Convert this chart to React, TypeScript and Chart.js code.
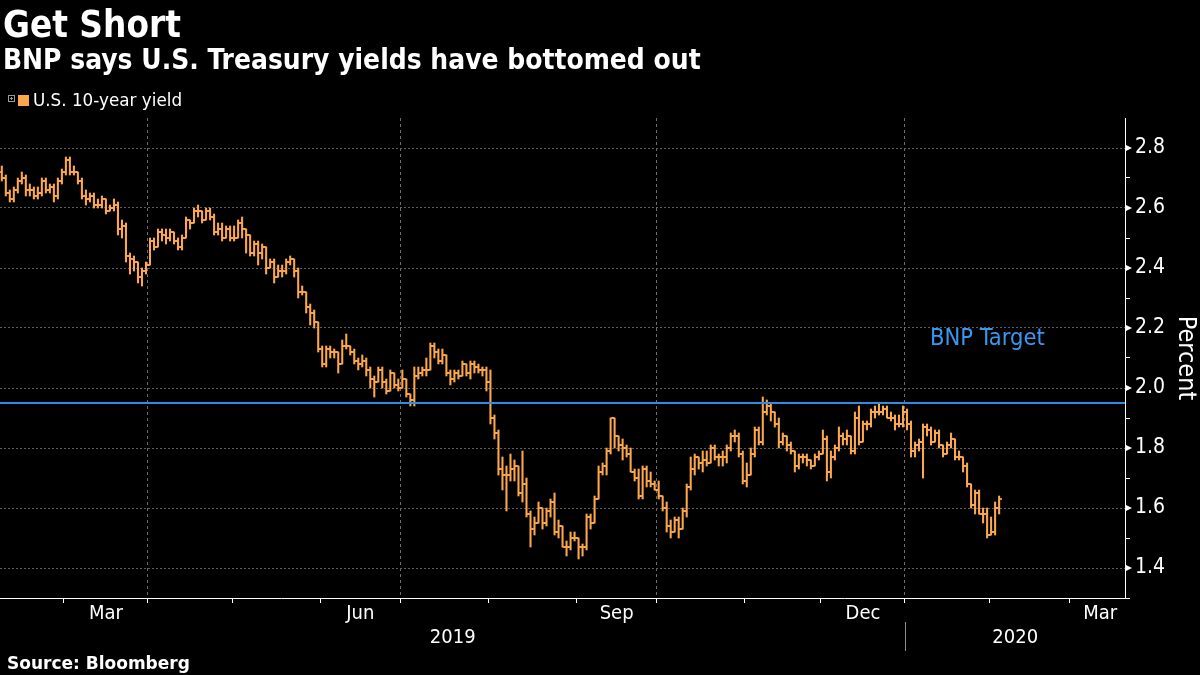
import React, { useEffect, useRef } from 'react';
import { Chart, registerables } from 'chart.js';

Chart.register(...registerables);

const ORANGE = '#FCA84B';
const BLUE = '#2E8DEB';
const COND = '"DejaVu Sans Condensed", "DejaVu Sans", sans-serif';
const SANS = '"DejaVu Sans", sans-serif';

// Daily bars, one per trading session, 6 Feb 2019 .. 5 Feb 2020 (index = session number)
const openVals = [
  // Feb 2019
  2.72, 2.70, 2.65, 2.63, 2.66, 2.69, 2.70, 2.66, 2.66, 2.64, 2.65, 2.69, 2.66, 2.67, 2.64, 2.69,
  // Mar
  2.72, 2.76, 2.72, 2.72, 2.69, 2.64, 2.63, 2.64, 2.61, 2.61, 2.63, 2.59, 2.60, 2.61, 2.53, 2.54, 2.44, 2.43, 2.42, 2.37, 2.39,
  // Apr
  2.41, 2.49, 2.47, 2.52, 2.51, 2.50, 2.52, 2.49, 2.47, 2.50, 2.56, 2.55, 2.59, 2.59, 2.56, 2.59, 2.57, 2.52, 2.53, 2.50, 2.53,
  // May
  2.50, 2.50, 2.55, 2.53, 2.51, 2.45, 2.48, 2.45, 2.47, 2.40, 2.42, 2.37, 2.39, 2.39, 2.42, 2.43, 2.39, 2.32, 2.32, 2.27, 2.25, 2.22,
  // Jun
  2.13, 2.08, 2.13, 2.12, 2.12, 2.08, 2.14, 2.14, 2.12, 2.09, 2.08, 2.09, 2.06, 2.03, 2.02, 2.06, 2.02, 1.99, 2.05, 2.01,
  // Jul
  2.00, 2.03, 1.98, 1.96, 2.04, 2.05, 2.06, 2.06, 2.14, 2.12, 2.09, 2.11, 2.05, 2.03, 2.05, 2.04, 2.08, 2.05, 2.08, 2.07, 2.06, 2.06,
  // Aug
  2.02, 1.90, 1.85, 1.73, 1.71, 1.71, 1.73, 1.74, 1.65, 1.68, 1.58, 1.53, 1.55, 1.60, 1.55, 1.59, 1.62, 1.52, 1.54, 1.47, 1.47, 1.50,
  // Sep
  1.50, 1.47, 1.47, 1.57, 1.55, 1.63, 1.72, 1.74, 1.79, 1.90, 1.84, 1.81, 1.80, 1.78, 1.72, 1.70, 1.64, 1.73, 1.69, 1.68,
  // Oct
  1.66, 1.64, 1.60, 1.54, 1.52, 1.56, 1.53, 1.59, 1.67, 1.73, 1.77, 1.75, 1.76, 1.75, 1.80, 1.77, 1.77, 1.77, 1.80, 1.84, 1.84, 1.78,
  // Nov
  1.69, 1.71, 1.78, 1.86, 1.82, 1.92, 1.94, 1.92, 1.88, 1.82, 1.84, 1.81, 1.79, 1.74, 1.77, 1.77, 1.76, 1.74, 1.77,
  // Dec
  1.78, 1.83, 1.72, 1.77, 1.80, 1.84, 1.83, 1.84, 1.79, 1.90, 1.82, 1.88, 1.88, 1.92, 1.92, 1.92, 1.93, 1.90, 1.90, 1.88, 1.88,
  // Jan 2020
  1.92, 1.88, 1.79, 1.81, 1.82, 1.87, 1.86, 1.82, 1.85, 1.81, 1.78, 1.81, 1.83, 1.77, 1.77, 1.74, 1.68, 1.61, 1.65, 1.58, 1.58,
  // Feb 2020
  1.51, 1.52, 1.60,
];

const highVals = [
  2.74, 2.71, 2.66, 2.67, 2.70, 2.72, 2.71, 2.68, 2.67, 2.67, 2.70, 2.70, 2.68, 2.68, 2.70, 2.73,
  2.77, 2.77, 2.74, 2.72, 2.70, 2.66, 2.65, 2.65, 2.63, 2.64, 2.63, 2.61, 2.63, 2.62, 2.56, 2.55, 2.45, 2.44, 2.42, 2.40, 2.42,
  2.50, 2.50, 2.53, 2.53, 2.53, 2.53, 2.52, 2.50, 2.51, 2.57, 2.56, 2.60, 2.61, 2.59, 2.60, 2.60, 2.58, 2.55, 2.55, 2.54, 2.54,
  2.54, 2.56, 2.57, 2.53, 2.51, 2.49, 2.49, 2.48, 2.47, 2.43, 2.43, 2.41, 2.41, 2.43, 2.44, 2.43, 2.40, 2.34, 2.32, 2.28, 2.26, 2.22,
  2.14, 2.14, 2.14, 2.13, 2.12, 2.16, 2.18, 2.14, 2.13, 2.10, 2.11, 2.10, 2.07, 2.04, 2.07, 2.07, 2.03, 2.06, 2.05, 2.03,
  2.06, 2.03, 1.98, 2.07, 2.07, 2.07, 2.10, 2.15, 2.15, 2.13, 2.13, 2.11, 2.06, 2.06, 2.06, 2.09, 2.08, 2.09, 2.09, 2.08, 2.07, 2.07,
  2.06, 1.91, 1.86, 1.77, 1.74, 1.78, 1.76, 1.74, 1.79, 1.70, 1.59, 1.57, 1.62, 1.60, 1.60, 1.63, 1.65, 1.56, 1.54, 1.49, 1.52, 1.52,
  1.50, 1.48, 1.58, 1.58, 1.64, 1.74, 1.75, 1.80, 1.90, 1.90, 1.84, 1.83, 1.81, 1.80, 1.73, 1.73, 1.74, 1.74, 1.72, 1.69,
  1.69, 1.64, 1.62, 1.56, 1.57, 1.57, 1.60, 1.68, 1.77, 1.78, 1.77, 1.79, 1.79, 1.81, 1.81, 1.78, 1.79, 1.81, 1.85, 1.86, 1.85, 1.79,
  1.75, 1.80, 1.87, 1.87, 1.97, 1.96, 1.95, 1.92, 1.90, 1.85, 1.84, 1.82, 1.79, 1.78, 1.78, 1.78, 1.76, 1.78, 1.79,
  1.86, 1.84, 1.79, 1.81, 1.87, 1.85, 1.86, 1.84, 1.92, 1.94, 1.89, 1.89, 1.93, 1.94, 1.95, 1.94, 1.94, 1.92, 1.91, 1.91, 1.94,
  1.93, 1.89, 1.82, 1.83, 1.88, 1.88, 1.87, 1.86, 1.86, 1.81, 1.82, 1.85, 1.83, 1.79, 1.77, 1.75, 1.68, 1.66, 1.66, 1.60, 1.60,
  1.57, 1.62, 1.64,
];

const lowVals = [
  2.69, 2.64, 2.62, 2.62, 2.65, 2.68, 2.64, 2.64, 2.63, 2.63, 2.64, 2.65, 2.65, 2.62, 2.63, 2.68,
  2.71, 2.71, 2.71, 2.68, 2.63, 2.61, 2.62, 2.60, 2.60, 2.60, 2.58, 2.59, 2.59, 2.51, 2.50, 2.42, 2.38, 2.39, 2.35, 2.34, 2.38,
  2.41, 2.46, 2.47, 2.49, 2.48, 2.49, 2.48, 2.46, 2.46, 2.50, 2.53, 2.55, 2.57, 2.55, 2.56, 2.56, 2.51, 2.51, 2.49, 2.50, 2.49,
  2.49, 2.50, 2.50, 2.45, 2.44, 2.44, 2.41, 2.43, 2.38, 2.40, 2.35, 2.37, 2.37, 2.38, 2.41, 2.37, 2.30, 2.31, 2.25, 2.21, 2.20, 2.12,
  2.07, 2.07, 2.10, 2.10, 2.05, 2.08, 2.13, 2.11, 2.08, 2.06, 2.07, 2.04, 2.00, 1.97, 2.02, 2.00, 1.98, 1.99, 2.00, 1.99,
  2.00, 1.97, 1.94, 1.94, 2.03, 2.04, 2.04, 2.06, 2.10, 2.08, 2.08, 2.04, 2.01, 2.02, 2.03, 2.04, 2.04, 2.03, 2.05, 2.05, 2.04, 1.99,
  1.88, 1.83, 1.71, 1.66, 1.59, 1.69, 1.69, 1.64, 1.62, 1.57, 1.47, 1.51, 1.55, 1.53, 1.54, 1.57, 1.51, 1.50, 1.47, 1.44, 1.46, 1.49,
  1.43, 1.44, 1.46, 1.53, 1.55, 1.63, 1.71, 1.71, 1.78, 1.80, 1.79, 1.76, 1.77, 1.72, 1.69, 1.63, 1.63, 1.67, 1.67, 1.66,
  1.63, 1.59, 1.52, 1.50, 1.52, 1.50, 1.53, 1.57, 1.66, 1.71, 1.73, 1.72, 1.74, 1.75, 1.76, 1.74, 1.74, 1.75, 1.79, 1.82, 1.77, 1.68,
  1.67, 1.71, 1.77, 1.81, 1.81, 1.91, 1.89, 1.87, 1.80, 1.81, 1.79, 1.78, 1.72, 1.73, 1.75, 1.74, 1.73, 1.74, 1.76,
  1.78, 1.69, 1.70, 1.76, 1.79, 1.81, 1.81, 1.78, 1.78, 1.81, 1.82, 1.86, 1.87, 1.90, 1.91, 1.91, 1.90, 1.89, 1.86, 1.87, 1.87,
  1.86, 1.77, 1.77, 1.79, 1.70, 1.84, 1.81, 1.82, 1.80, 1.77, 1.78, 1.80, 1.76, 1.76, 1.72, 1.67, 1.60, 1.58, 1.58, 1.55, 1.50,
  1.51, 1.51, 1.58,
];

const closeVals = [
  2.70, 2.65, 2.63, 2.66, 2.69, 2.70, 2.66, 2.66, 2.64, 2.65, 2.69, 2.66, 2.67, 2.64, 2.69, 2.72,
  2.76, 2.72, 2.72, 2.69, 2.64, 2.63, 2.64, 2.61, 2.61, 2.63, 2.59, 2.60, 2.61, 2.53, 2.54, 2.44, 2.43, 2.42, 2.37, 2.39, 2.41,
  2.49, 2.47, 2.52, 2.51, 2.50, 2.52, 2.49, 2.47, 2.50, 2.56, 2.55, 2.59, 2.59, 2.56, 2.59, 2.57, 2.52, 2.53, 2.50, 2.53, 2.50,
  2.50, 2.55, 2.53, 2.51, 2.45, 2.48, 2.45, 2.47, 2.40, 2.42, 2.37, 2.39, 2.39, 2.42, 2.43, 2.39, 2.32, 2.32, 2.27, 2.25, 2.22, 2.13,
  2.08, 2.13, 2.12, 2.12, 2.08, 2.14, 2.14, 2.12, 2.09, 2.08, 2.09, 2.06, 2.03, 2.02, 2.06, 2.02, 1.99, 2.05, 2.01, 2.00,
  2.03, 1.98, 1.96, 2.04, 2.05, 2.06, 2.06, 2.14, 2.12, 2.09, 2.11, 2.05, 2.03, 2.05, 2.04, 2.08, 2.05, 2.08, 2.07, 2.06, 2.06, 2.02,
  1.90, 1.85, 1.73, 1.71, 1.71, 1.73, 1.74, 1.65, 1.68, 1.58, 1.53, 1.55, 1.60, 1.55, 1.59, 1.62, 1.52, 1.54, 1.47, 1.47, 1.50, 1.50,
  1.47, 1.47, 1.57, 1.55, 1.63, 1.72, 1.74, 1.79, 1.90, 1.84, 1.81, 1.80, 1.78, 1.72, 1.70, 1.64, 1.73, 1.69, 1.68, 1.66,
  1.64, 1.60, 1.54, 1.52, 1.56, 1.53, 1.59, 1.67, 1.73, 1.77, 1.75, 1.76, 1.75, 1.80, 1.77, 1.77, 1.77, 1.80, 1.84, 1.84, 1.78, 1.69,
  1.71, 1.78, 1.86, 1.82, 1.92, 1.94, 1.92, 1.88, 1.82, 1.84, 1.81, 1.79, 1.74, 1.77, 1.77, 1.76, 1.74, 1.77, 1.78,
  1.83, 1.72, 1.77, 1.80, 1.84, 1.83, 1.84, 1.79, 1.90, 1.82, 1.88, 1.88, 1.92, 1.92, 1.92, 1.93, 1.90, 1.90, 1.88, 1.88, 1.92,
  1.88, 1.79, 1.81, 1.82, 1.87, 1.86, 1.82, 1.85, 1.81, 1.78, 1.81, 1.83, 1.77, 1.77, 1.74, 1.68, 1.61, 1.65, 1.58, 1.58, 1.51,
  1.52, 1.60, 1.63,
];

const targetYield = 1.95;

// Month axis: session index where each month begins
const monthNames = ['Mar', 'Apr', 'May', 'Jun', 'Jul', 'Aug', 'Sep', 'Oct', 'Nov', 'Dec', 'Jan', 'Feb', 'Mar', 'Apr'];
const monthStartIdx = [16, 37, 58, 80, 100, 122, 144, 164, 186, 205, 226, 247, 267, 289];
const labelledMonths = ['Mar', 'Jun', 'Sep', 'Dec'];
const gridMonths = ['Apr', 'Jul', 'Oct', 'Jan'];
const yearNames = ['2019', '2020'];
const yearStartIdx = 226;

const yTickValues = [1.3, 1.4, 1.5, 1.6, 1.7, 1.8, 1.9, 2.0, 2.1, 2.2, 2.3, 2.4, 2.5, 2.6, 2.7, 2.8];
const yLabelValues = [1.4, 1.6, 1.8, 2.0, 2.2, 2.4, 2.6, 2.8];

const X_MIN = -0.45;
const X_MAX = 280.43;
const Y_MIN = 1.3;
const Y_MAX = 2.9;

const isMajor = (v: number) => yLabelValues.some((m) => Math.abs(m - v) < 1e-6);

export default function App() {
  const ref = useRef<HTMLCanvasElement>(null);

  useEffect(() => {
    const canvas = ref.current;
    if (!canvas) return;

    const makeTick = (side: 'left' | 'right') => {
      const c = document.createElement('canvas');
      c.width = 6;
      c.height = 2;
      const g = c.getContext('2d')!;
      g.fillStyle = ORANGE;
      g.globalAlpha = 0.85;
      g.fillRect(side === 'left' ? 0 : 3, 0, 3, 2);
      return c;
    };
    const openImg = makeTick('left');
    const closeImg = makeTick('right');

    type XT = { value: number; label: string; kind: 'grid' | 'mark' | 'label' };
    const xTicks: XT[] = [];
    monthStartIdx.forEach((s, k) => {
      const b = s - 0.5;
      if (b > X_MIN && b < X_MAX) {
        xTicks.push({ value: b, label: '', kind: gridMonths.includes(monthNames[k]) ? 'grid' : 'mark' });
      }
      if (labelledMonths.includes(monthNames[k]) || k === 12) {
        if (k + 1 < monthStartIdx.length) {
          const mid = (s + monthStartIdx[k + 1]) / 2 - 0.5;
          const pos = Math.min(mid, X_MAX - 6.2);
          xTicks.push({ value: pos, label: monthNames[k], kind: 'label' });
        }
      }
    });
    xTicks.sort((a, b) => a.value - b.value);
    const kindAt = (v: number) => {
      const t = xTicks.find((q) => Math.abs(q.value - v) < 1e-6);
      return t ? t.kind : 'label';
    };

    const decor = {
      id: 'decor',
      afterDraw(chart: any) {
        const { ctx, chartArea } = chart;
        const x = chart.scales.x;
        const y = chart.scales.y;
        ctx.save();
        const sep = Math.round(x.getPixelForValue(yearStartIdx - 0.5)) + 0.5;
        ctx.strokeStyle = '#8a8a8a';
        ctx.lineWidth = 1;
        ctx.beginPath();
        ctx.moveTo(sep, x.top + 24);
        ctx.lineTo(sep, x.top + 53);
        ctx.stroke();
        ctx.fillStyle = '#ffffff';
        ctx.font = `20px ${COND}`;
        ctx.textAlign = 'center';
        ctx.textBaseline = 'middle';
        ctx.fillText(yearNames[0], (chartArea.left + sep) / 2, x.top + 40);
        ctx.fillText(yearNames[1], (sep + chartArea.right) / 2, x.top + 40);
        yLabelValues.forEach((v) => {
          const py = y.getPixelForValue(v);
          ctx.beginPath();
          ctx.moveTo(chartArea.right + 1, py - 3);
          ctx.lineTo(chartArea.right + 7, py);
          ctx.lineTo(chartArea.right + 1, py + 3);
          ctx.closePath();
          ctx.fill();
        });
        ctx.restore();
      },
    };

    const chart = new Chart(canvas, {
      type: 'bar',
      data: {
        datasets: [
          {
            type: 'line',
            label: 'BNP Target',
            data: [
              { x: X_MIN, y: targetYield },
              { x: X_MAX, y: targetYield },
            ],
            borderColor: BLUE,
            borderWidth: 2,
            pointRadius: 0,
            order: 0,
          } as any,
          {
            type: 'line',
            label: 'Open',
            data: openVals.map((v, i) => ({ x: i, y: v })),
            showLine: false,
            pointStyle: openImg,
            pointRadius: 3,
            pointHoverRadius: 3,
            order: 1,
          } as any,
          {
            type: 'line',
            label: 'Close',
            data: closeVals.map((v, i) => ({ x: i, y: v })),
            showLine: false,
            pointStyle: closeImg,
            pointRadius: 3,
            pointHoverRadius: 3,
            order: 1,
          } as any,
          {
            type: 'bar',
            label: 'U.S. 10-year yield',
            data: highVals.map((h, i) => ({ x: i, y: [lowVals[i], h] })),
            backgroundColor: ORANGE,
            borderWidth: 0,
            barThickness: 1.4,
            grouped: false,
            order: 2,
          } as any,
        ],
      },
      options: {
        responsive: false,
        animation: false,
        devicePixelRatio: 1,
        events: [],
        layout: { autoPadding: false, padding: { top: 118, left: 0, right: 0, bottom: 0 } },
        plugins: {
          legend: { display: false },
          tooltip: { enabled: false },
        },
        scales: {
          x: {
            type: 'linear',
            min: X_MIN,
            max: X_MAX,
            offset: false,
            afterFit: (s: any) => {
              s.height = 77;
              s.paddingLeft = 0;
              s.paddingRight = 0;
            },
            afterBuildTicks: (s: any) => {
              s.ticks = xTicks.map((t) => ({ value: t.value }));
            },
            ticks: {
              autoSkip: false,
              maxRotation: 0,
              minRotation: 0,
              padding: 1,
              color: '#ffffff',
              font: { family: COND, size: 20, lineHeight: 1 },
              callback: (_v: any, i: number) => (xTicks[i] ? xTicks[i].label : ''),
            },
            grid: {
              offset: false,
              lineWidth: 1,
              tickLength: 5,
              color: (ctx: any) =>
                ctx.tick && kindAt(ctx.tick.value) === 'grid' ? '#6c6c6c' : 'rgba(0,0,0,0)',
              tickColor: (ctx: any) =>
                ctx.tick && kindAt(ctx.tick.value) !== 'label' ? '#ffffff' : 'rgba(0,0,0,0)',
            },
            border: { color: '#ffffff', width: 1, dash: [3, 3] },
          },
          y: {
            type: 'linear',
            position: 'right',
            min: Y_MIN,
            max: Y_MAX,
            beginAtZero: false,
            afterFit: (s: any) => {
              s.width = 75;
              s.paddingTop = 0;
              s.paddingBottom = 0;
            },
            afterBuildTicks: (s: any) => {
              s.ticks = yTickValues.map((v) => ({ value: v }));
            },
            ticks: {
              autoSkip: false,
              padding: 5,
              color: '#ffffff',
              font: { family: COND, size: 21 },
              callback: (v: any) => (isMajor(Number(v)) ? Number(v).toFixed(1) : ''),
            },
            grid: {
              lineWidth: 1,
              tickLength: 5,
              color: (ctx: any) =>
                ctx.tick && isMajor(ctx.tick.value) ? '#5f5f5f' : 'rgba(0,0,0,0)',
              tickColor: (ctx: any) =>
                ctx.tick && !isMajor(ctx.tick.value) ? '#ffffff' : 'rgba(0,0,0,0)',
            },
            border: { color: '#ffffff', width: 1, dash: [2, 2] },
            title: {
              display: true,
              text: 'Percent',
              color: '#ffffff',
              font: { family: COND, size: 25 },
              padding: { top: 0, bottom: 0 },
            },
          },
        },
      },
      plugins: [decor],
    } as any);

    return () => chart.destroy();
  }, []);

  const abs = (extra: React.CSSProperties): React.CSSProperties => ({
    position: 'absolute',
    margin: 0,
    lineHeight: 1,
    whiteSpace: 'nowrap',
    color: '#ffffff',
    ...extra,
  });

  return (
    <div
      style={{
        position: 'fixed',
        left: 0,
        top: 0,
        width: 1200,
        height: 675,
        background: '#000000',
        overflow: 'hidden',
      }}
    >
      <canvas
        ref={ref}
        width={1200}
        height={675}
        style={{ position: 'absolute', left: 0, top: 0, width: 1200, height: 675, display: 'block' }}
      />
      <div style={abs({ left: 3, top: 6.5, fontFamily: COND, fontWeight: 700, fontSize: 36.5 })}>Get Short</div>
      <div style={abs({ left: 3, top: 45.5, fontFamily: COND, fontWeight: 700, fontSize: 27.9 })}>
        BNP says U.S. Treasury yields have bottomed out
      </div>
      <svg style={{ position: 'absolute', left: 8, top: 95 }} width={8} height={8}>
        <rect x={0.5} y={0.5} width={6} height={6} fill="none" stroke="#9a9a9a" strokeWidth={1} />
        <line x1={2} y1={3.5} x2={5} y2={3.5} stroke="#9a9a9a" strokeWidth={1} />
        <line x1={3.5} y1={2} x2={3.5} y2={5} stroke="#9a9a9a" strokeWidth={1} />
      </svg>
      <div style={{ position: 'absolute', left: 18, top: 94.5, width: 11, height: 11, background: ORANGE }} />
      <div style={abs({ left: 33, top: 91.5, fontFamily: SANS, fontSize: 16.8 })}>U.S. 10-year yield</div>
      <div style={abs({ left: 930, top: 326, fontFamily: COND, fontSize: 23.5, color: '#3A97EF' })}>BNP Target</div>
      <div style={abs({ left: 7, top: 654.6, fontFamily: SANS, fontWeight: 700, fontSize: 17 })}>Source: Bloomberg</div>
    </div>
  );
}
